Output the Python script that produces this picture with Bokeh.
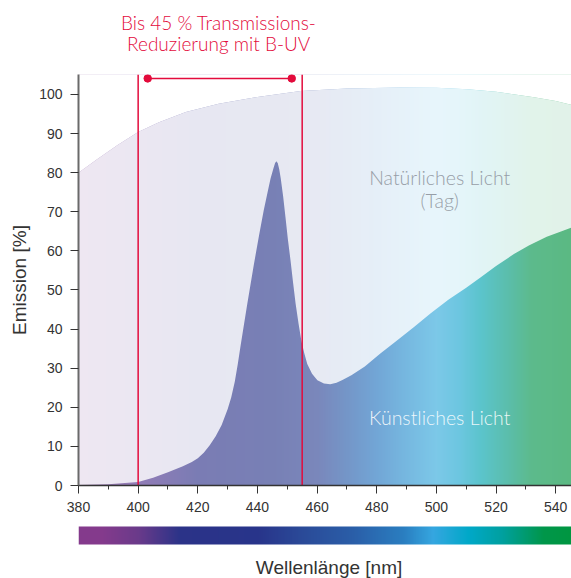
import numpy as np
from bokeh.plotting import figure
from bokeh.models import Range1d, SingleIntervalTicker, Label
from bokeh.layouts import column
from bokeh.embed import file_html
from bokeh.resources import INLINE

# ---------------- data ----------------
natural_nm = [380, 386, 393, 400, 407, 416, 427, 439.4, 454.5, 470, 488, 500,
              510.4, 520, 532.7, 540, 546]
natural_pct = [80.0, 83.3, 87.0, 90.4, 92.9, 95.5, 97.6, 99.3, 100.9, 101.5, 101.8,
               101.7, 101.3, 100.7, 99.3, 98.3, 97.2]

artificial_nm = [380, 390, 400, 405, 410, 415, 418, 420, 422, 424, 426, 428, 430,
                 431.2, 432.4, 433.4, 434.4, 436.6, 438.8, 440.5, 442.1, 443.4,
                 444.4, 445.4, 445.9, 446.3, 446.8, 447.3, 447.8, 448.6, 449.4,
                 450.2, 451.1, 452.0, 452.8, 453.8, 454.7, 455.7, 456.7, 458.3,
                 460.1, 462.3, 464.4, 466.5, 468.5, 471.5, 476, 481, 487, 492.5,
                 498, 504, 510, 515, 520, 526, 531, 537, 542, 546]
artificial_pct = [0.1, 0.3, 0.9, 2.0, 3.4, 4.9, 6.0, 7.0, 8.4, 10.3, 12.6, 15.5, 19.5,
                  22.5, 26.5, 31.0, 36.0, 46.5, 56.5, 63.8, 70.3, 75.0,
                  78.5, 81.2, 82.4, 82.9, 82.5, 80.9, 78.6, 74.0, 68.6,
                  63.0, 57.5, 51.5, 46.5, 41.3, 37.1, 33.8, 31.1, 28.6,
                  26.9, 26.1, 25.9, 26.3, 27.0, 28.2, 30.4, 33.6, 37.2, 40.5,
                  44.0, 47.5, 50.6, 53.3, 56.1, 59.2, 61.4, 63.6, 65.0, 66.2]

marker_lines_nm = [400, 455]
bracket_nm = [403.2, 451.5]
bracket_pct = [104.1, 104.1]

x_ticks_interval = 20
y_ticks_interval = 10

# colour stops of the gradients (wavelength -> colour)
area_stops_nm = [380, 405, 420, 445, 460, 470, 480, 490, 500, 508, 515, 525, 532, 546]
area_stops_col = ["#a07ab4", "#8c7cb6", "#7a7cb4", "#7880b5", "#7a87bb", "#7496c8",
                  "#72a6d6", "#76b8e0", "#7cc8e8", "#6cc6e0", "#5bc4cc", "#5bbda8",
                  "#5cba8c", "#5bb982"]
bar_stops_nm = [380, 388, 400, 414, 440, 455, 472, 489, 499, 511, 522, 536, 546]
bar_stops_col = ["#843a8c", "#843a8c", "#6a3a8a", "#2b3388", "#28348a", "#2a4a98",
                 "#2a5ea8", "#2a7ec0", "#35a6e0", "#00a8c8", "#00a0a0", "#00964a",
                 "#009640"]

X0, X1 = 380, 545.3
Y1 = 105.1
RED = "#e30b3c"
DARK = "#333333"
FONT = "Liberation Sans"
LIGHT = "Lato Light"
W = 571
LEFT = 78


def gradient_rgba(stops_nm, stops_hex, n=660):
    xs = np.linspace(X0, X1, n)
    rgb = np.array([[int(h[i:i + 2], 16) for i in (1, 3, 5)] for h in stops_hex], float)
    img = np.empty((1, n), dtype=np.uint32)
    view = img.view(dtype=np.uint8).reshape((1, n, 4))
    for c in range(3):
        view[0, :, c] = np.round(np.interp(xs, stops_nm, rgb[:, c])).astype(np.uint8)
    view[0, :, 3] = 255
    return img


def bare_figure(height, y_end):
    f = figure(width=W, height=height, x_range=Range1d(X0, X1), y_range=Range1d(0, y_end),
               output_backend="svg", toolbar_location=None,
               x_axis_location=None, y_axis_location=None,
               min_border_left=LEFT, min_border_right=0, min_border_top=0, min_border_bottom=0)
    f.outline_line_color = None
    f.grid.visible = False
    return f


# ---------------- title strip ----------------
p0 = bare_figure(60, 60)
p0.add_layout(Label(x=427.0, y=38, text="Bis 45 % Transmissions-", text_align="center",
                    text_baseline="middle", text_font=LIGHT, text_font_size="19px", text_color=RED))
p0.add_layout(Label(x=427.0, y=17, text="Reduzierung mit B-UV", text_align="center",
                    text_baseline="middle", text_font=LIGHT, text_font_size="19px", text_color=RED))

# ---------------- main chart ----------------
p = figure(width=W, height=460, x_range=Range1d(X0, X1), y_range=Range1d(0, Y1),
           output_backend="svg", toolbar_location=None,
           min_border_left=LEFT, min_border_right=0, min_border_top=14, min_border_bottom=35)
p.outline_line_color = None
p.grid.visible = False
p.background_fill_color = "white"

# coloured field (artificial light colours)
p.image_rgba(image=[gradient_rgba(area_stops_nm, area_stops_col)], x=X0, y=0, dw=X1 - X0, dh=Y1)
# pale zone between the two curves (natural light)
p.patch(natural_nm + artificial_nm[::-1], natural_pct + artificial_pct[::-1],
        fill_color="white", fill_alpha=0.82, line_color=None)
# white above the natural light curve
p.patch(natural_nm + [natural_nm[-1], natural_nm[0]], natural_pct + [Y1 + 5, Y1 + 5],
        fill_color="white", fill_alpha=1.0, line_color=None)

# red markers
p.segment(x0=marker_lines_nm, y0=[0, 0], x1=marker_lines_nm, y1=[Y1, Y1],
          line_color=RED, line_width=1.5)
p.line(bracket_nm, bracket_pct, line_color=RED, line_width=1.5)
p.scatter(bracket_nm, bracket_pct, size=7.5, fill_color=RED, line_color=RED)

# axes
p.xaxis.ticker = SingleIntervalTicker(interval=x_ticks_interval, num_minor_ticks=2)
p.yaxis.ticker = SingleIntervalTicker(interval=y_ticks_interval, num_minor_ticks=0)
for ax in (p.xaxis[0], p.yaxis[0]):
    ax.major_tick_in = 0
    ax.major_tick_out = 8
    ax.minor_tick_in = 0
    ax.major_tick_line_color = DARK
    ax.minor_tick_line_color = DARK
    ax.major_label_text_font = FONT
    ax.major_label_text_font_size = "14px"
    ax.major_label_text_color = DARK
p.xaxis.major_label_standoff = 8
p.yaxis.major_label_standoff = 8
p.xaxis.minor_tick_out = 4
p.yaxis.minor_tick_out = 0
p.xaxis.axis_line_color = "#333333"
p.xaxis.axis_line_width = 1.5
p.yaxis.axis_line_color = "#6a6a6a"
p.yaxis.axis_line_width = 2
p.yaxis.axis_label = "Emission [%]"
p.yaxis.axis_label_text_font = FONT
p.yaxis.axis_label_text_font_size = "19px"
p.yaxis.axis_label_text_font_style = "normal"
p.yaxis.axis_label_text_color = DARK
p.yaxis.axis_label_standoff = 6

# texts inside the chart
p.add_layout(Label(x=501.1, y=78.7, text="Natürliches Licht", text_align="center",
                   text_baseline="middle", text_font=LIGHT, text_font_size="19.5px",
                   text_color="#979ea7"))
p.add_layout(Label(x=501.1, y=72.9, text="(Tag)", text_align="center",
                   text_baseline="middle", text_font=LIGHT, text_font_size="19.5px",
                   text_color="#979ea7"))
p.add_layout(Label(x=501.1, y=17.3, text="Künstliches Licht", text_align="center",
                   text_baseline="middle", text_font=LIGHT, text_font_size="19.5px",
                   text_color="white", text_alpha=0.88))

# ---------------- spectrum bar + x label ----------------
p2 = bare_figure(58, 58)
p2.image_rgba(image=[gradient_rgba(bar_stops_nm, bar_stops_col)], x=X0, y=34, dw=X1 - X0, dh=18)
p2.add_layout(Label(x=464.0, y=11, text="Wellenlänge [nm]", text_align="center",
                    text_baseline="middle", text_font=FONT, text_font_size="19px", text_color=DARK))

layout = column(p0, p, p2)
open("out.html", "w").write(file_html(layout, INLINE))
